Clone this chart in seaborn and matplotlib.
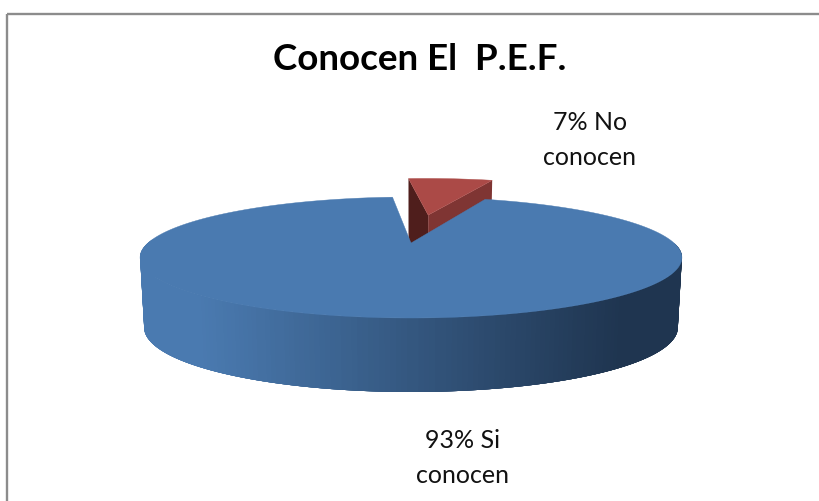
import numpy as np
import matplotlib
matplotlib.use("Agg")
import matplotlib.pyplot as plt
import seaborn as sns

# Data
categories = ["No conocen", "Si conocen"]
percent = [7, 93]
labels = ["7% No\nconocen", "93% Si\nconocen"]
title = "Conocen El  P.E.F."

sns.set_theme(style="white")
plt.rcParams["font.family"] = ["Lato", "DejaVu Sans"]

top_blue, dark_blue = "#4A7AB0", "#1F3550"
top_red, front_red, side_red = "#AB4A47", "#7F3533", "#4F1E1C"

# Perspective model of the tilted disc (pixels)
X0, Y0, A, B, K = 411.0, 243.0, 263.0, 57.0, 0.24
SHRINK = 0.985
START = -5.0          # first slice start, degrees clockwise from top
EXPLODE = 0.56


def project(x, y):
    w = 1 + K * y
    return X0 + A * x / w, Y0 - B * y / w


def project_low(x, y):
    sx, sy = project(x, y)
    return X0 + (sx - X0) * SHRINK, sy + 68.7 - 5.3 * y


fig = plt.figure(figsize=(8.2, 5.01), dpi=100, facecolor="white")
ax = fig.add_axes([0, 0, 1, 1])
ax.set_xlim(0, 820)
ax.set_ylim(501, 0)
ax.axis("off")

# Frame
ax.plot([7, 7], [501, 14], color="#8C8C8C", lw=1.7, solid_capstyle="butt")
ax.plot([7, 820], [14, 14], color="#8C8C8C", lw=1.7, solid_capstyle="butt")

sweeps = np.array(percent) / sum(percent) * 360
a0, a1 = START, START + sweeps[0]
mid = np.radians((a0 + a1) / 2)
ox, oy = EXPLODE * np.sin(mid), EXPLODE * np.cos(mid)

# Exploded slice (drawn first, the big slice overlaps it)
t = np.radians(np.linspace(a0, a1, 40))
rx, ry = ox + np.sin(t), oy + np.cos(t)
px, py = project(np.r_[ox, rx], np.r_[oy, ry])
lx0, ly0 = project_low(ox, oy)
lx, ly = project_low(rx, ry)
ax.fill([px[0], px[1], lx[0], lx0], [py[0], py[1], ly[0], ly0], color=side_red, lw=0)
ax.fill([px[0], px[-1], lx[-1], lx0], [py[0], py[-1], ly[-1], ly0], color=front_red, lw=0)
ax.fill(px, py, color=top_red, lw=0.3)

# Big slice: overlapping wall strips with shading, then top face
t = np.radians(np.linspace(a1, a1 + sweeps[1], 360))
bx, by = np.sin(t), np.cos(t)
tx, ty = project(bx, by)
ux, uy = project_low(bx, by)
shades = sns.blend_palette([top_blue, dark_blue], 120)
step = 5
for i in range(len(t) - 1):
    if by[i] > 0:
        continue
    j = min(i + step, len(t) - 1)
    f = np.clip((tx[i] - 200) / 420, 0, 1)
    c = shades[int(f * 119)]
    ax.fill(np.r_[tx[i:j + 1], ux[i:j + 1][::-1]], np.r_[ty[i:j + 1], uy[i:j + 1][::-1]],
            color=c, lw=0)
ax.fill(np.r_[X0, tx], np.r_[Y0, ty], color=top_blue, lw=0.3)

# Text
ax.text(420, 59, title, ha="center", va="center", fontsize=26.5, fontweight="bold", color="black")
ax.text(590, 140, labels[0], ha="center", va="center", fontsize=18, color="#111111", linespacing=1.6)
ax.text(463, 458, labels[1], ha="center", va="center", fontsize=18, color="#111111", linespacing=1.6)

fig.savefig("out.png", dpi=100)
